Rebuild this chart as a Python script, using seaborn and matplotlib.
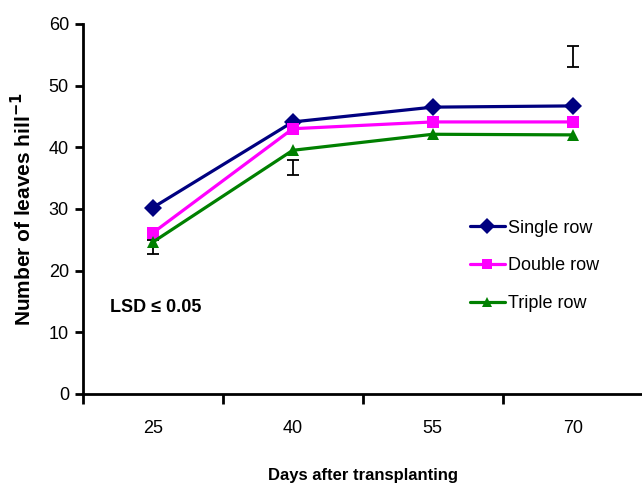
import numpy as np
import pandas as pd
import matplotlib
matplotlib.use('Agg')
import matplotlib.pyplot as plt
import seaborn as sns

# Data
days = [25, 40, 55, 70]
single_row = [30.2, 44.1, 46.5, 46.7]
double_row = [26.1, 43.0, 44.1, 44.1]
triple_row = [24.6, 39.5, 42.1, 42.0]
series_names = ['Single row', 'Double row', 'Triple row']

# LSD bars (day, low, high)
lsd_days = [25, 40, 70]
lsd_low = [22.7, 35.5, 53.0]
lsd_high = [25.0, 37.9, 56.4]

colors = {'Single row': '#000080', 'Double row': '#FF00FF', 'Triple row': '#008000'}
markers = {'Single row': 'D', 'Double row': 's', 'Triple row': '^'}

df = pd.DataFrame({
    'pos': list(range(len(days))) * 3,
    'leaves': single_row + double_row + triple_row,
    'system': np.repeat(series_names, len(days)),
})

sns.set_style('white')
plt.rcParams['font.family'] = ['Liberation Sans', 'DejaVu Sans']
plt.rcParams.update({'text.color': 'black', 'axes.labelcolor': 'black',
                     'xtick.color': 'black', 'ytick.color': 'black'})

fig = plt.figure(figsize=(6.42, 4.88), dpi=100)
ax = fig.add_axes([0.129, 0.193, 0.872, 0.758])

# LSD bars, drawn under the lines
lsd_pos = [days.index(d) for d in lsd_days]
lsd_low = np.array(lsd_low)
lsd_high = np.array(lsd_high)
ax.errorbar(lsd_pos, (lsd_low + lsd_high) / 2, yerr=(lsd_high - lsd_low) / 2,
            fmt='none', ecolor='black', elinewidth=1.3, capsize=4, capthick=1.3, zorder=1)

sns.lineplot(data=df, x='pos', y='leaves', hue='system', style='system',
             palette=colors, markers=markers, dashes=False, linewidth=2.3,
             markersize=9, markeredgewidth=0, ax=ax, zorder=3)

# category axis: ticks at boundaries, labels centred
ax.set_xlim(-0.5, len(days) - 0.5)
ax.set_ylim(0, 60)
ax.set_xticks(np.arange(len(days) + 1) - 0.5)
ax.set_xticklabels([])
ax.set_xticks(np.arange(len(days)), minor=True)
ax.set_xticklabels([str(d) for d in days], minor=True)
ax.tick_params(axis='x', which='major', direction='out', length=7, width=2, color='black', bottom=True)
ax.tick_params(axis='x', which='minor', length=0, pad=19, labelsize=13)
ax.set_yticks(range(0, 61, 10))
ax.tick_params(axis='y', direction='out', length=6, width=2, color='black', left=True, labelsize=13, pad=4)
for s in ['top', 'right']:
    ax.spines[s].set_visible(False)
for s in ['left', 'bottom']:
    ax.spines[s].set_linewidth(2)
    ax.spines[s].set_color('black')
ax.set_xlabel('Days after transplanting', fontsize=12, fontweight='bold', labelpad=22)
ax.set_ylabel('Number of leaves hill$^{\\mathbf{-1}}$', fontsize=15, fontweight='bold', labelpad=10)

ax.legend(loc='upper left', bbox_to_anchor=(0.662, 0.515), frameon=False, fontsize=13,
          labelspacing=1.15, handlelength=1.95, handletextpad=0.15, markerscale=0.85, title=None)

ax.text(0.048, 0.232, 'LSD ≤ 0.05', transform=ax.transAxes, fontsize=13, fontweight='bold',
        va='center', ha='left')

fig.savefig('out.png', dpi=100)
